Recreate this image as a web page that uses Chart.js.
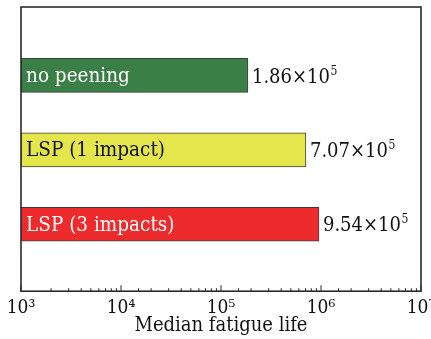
<!DOCTYPE html>
<html>
<head>
<meta charset="utf-8">
<script src="https://cdn.jsdelivr.net/npm/chart.js@4/dist/chart.umd.min.js"></script>
<style>
  html, body { margin: 0; padding: 0; background: #ffffff; }
  #wrap { width: 431px; height: 339px; position: relative; }
</style>
</head>
<body>
<div id="wrap"><canvas id="c"></canvas></div>
<script>
// ---- data ----
const categories = ['no peening', 'LSP (1 impact)', 'LSP (3 impacts)'];
const fatigueLife = [1.86e5, 7.07e5, 9.54e5];
const xMin = 1e3;
const xMax = 1e7;
const axisTitle = 'Median fatigue life';

// ---- styles ----
const FONT = "'DejaVu Serif Condensed', 'Liberation Serif', serif";
const barFill = ['#3a7f45', '#e5e64b', '#ee2b2c'];
const labelInk = ['#ffffff', '#111111', '#ffffff'];
const SUP = {'0':'\u2070','1':'\u00B9','2':'\u00B2','3':'\u00B3','4':'\u2074','5':'\u2075','6':'\u2076','7':'\u2077','8':'\u2078','9':'\u2079'};

const points = categories.map((c, i) => ({ x: fatigueLife[i], y: i + 1 }));

const framePlugin = {
  id: 'frame',
  afterDraw(chart) {
    const { ctx, chartArea: a } = chart;
    const xs = chart.scales.x;
    ctx.save();
    ctx.strokeStyle = '#2b2b2b';
    // inward ticks on bottom axis
    xs.ticks.forEach(t => {
      const px = xs.getPixelForValue(t.value);
      const lg = Math.log10(t.value);
      const major = Math.abs(lg - Math.round(lg)) < 1e-9;
      const len = major ? 6 : 3;
      ctx.lineWidth = 1;
      ctx.beginPath();
      ctx.moveTo(px, a.bottom);
      ctx.lineTo(px, a.bottom - len);
      ctx.stroke();
    });
    ctx.lineWidth = 1.6;
    ctx.strokeRect(a.left, a.top, a.right - a.left, a.bottom - a.top);
    ctx.restore();
  }
};

const labelPlugin = {
  id: 'barLabels',
  afterDatasetsDraw(chart) {
    const { ctx, chartArea: a } = chart;
    const meta = chart.getDatasetMeta(0);
    ctx.save();
    ctx.textBaseline = 'middle';
    meta.data.forEach((bar, i) => {
      // category label inside the bar
      ctx.font = '20.5px ' + FONT;
      ctx.fillStyle = labelInk[i];
      ctx.textAlign = 'left';
      ctx.fillText(categories[i], a.left + 5, bar.y + 1);
      // value label to the right of the bar
      const v = fatigueLife[i];
      const ex = Math.floor(Math.log10(v));
      const mant = (v / Math.pow(10, ex)).toFixed(2);
      ctx.fillStyle = '#111111';
      ctx.font = '20px ' + FONT;
      let x = bar.x + 4;
      const y = bar.y + 2;
      const main = mant + '\u00D7' + '10';
      ctx.fillText(main, x, y);
      x += ctx.measureText(main).width;
      ctx.font = '12px ' + FONT;
      ctx.fillText(String(ex), x + 0.5, y - 6);
    });
    ctx.restore();
  }
};

new Chart(document.getElementById('c'), {
  type: 'bar',
  data: {
    datasets: [{
      data: points,
      backgroundColor: barFill,
      borderColor: '#3c3c3c',
      borderWidth: 1,
      borderSkipped: false,
      barThickness: 34
    }]
  },
  options: {
    indexAxis: 'y',
    responsive: true,
    maintainAspectRatio: false,
    animation: false,
    layout: { padding: { left: 21, right: 10, top: 7, bottom: 1 } },
    plugins: { legend: { display: false }, tooltip: { enabled: false } },
    scales: {
      x: {
        type: 'logarithmic',
        min: xMin,
        max: xMax,
        grid: { display: false, drawTicks: false },
        border: { display: false },
        ticks: {
          autoSkip: false,
          maxRotation: 0,
          padding: 5,
          color: '#111111',
          font: { family: FONT, size: 19 },
          callback(value) {
            const lg = Math.log10(value);
            if (Math.abs(lg - Math.round(lg)) > 1e-9) return '';
            return '10' + String(Math.round(lg)).split('').map(d => SUP[d]).join('');
          }
        },
        title: {
          display: true,
          text: axisTitle,
          color: '#111111',
          padding: { top: -10, bottom: 0 },
          font: { family: FONT, size: 20 }
        },
        afterFit(scale) { scale.paddingLeft = 0; scale.paddingRight = 0; }
      },
      y: {
        type: 'linear',
        reverse: true,
        offset: false,
        min: 0.08,
        max: 3.9,
        display: false
      }
    }
  },
  plugins: [labelPlugin, framePlugin]
});
</script>
</body>
</html>
